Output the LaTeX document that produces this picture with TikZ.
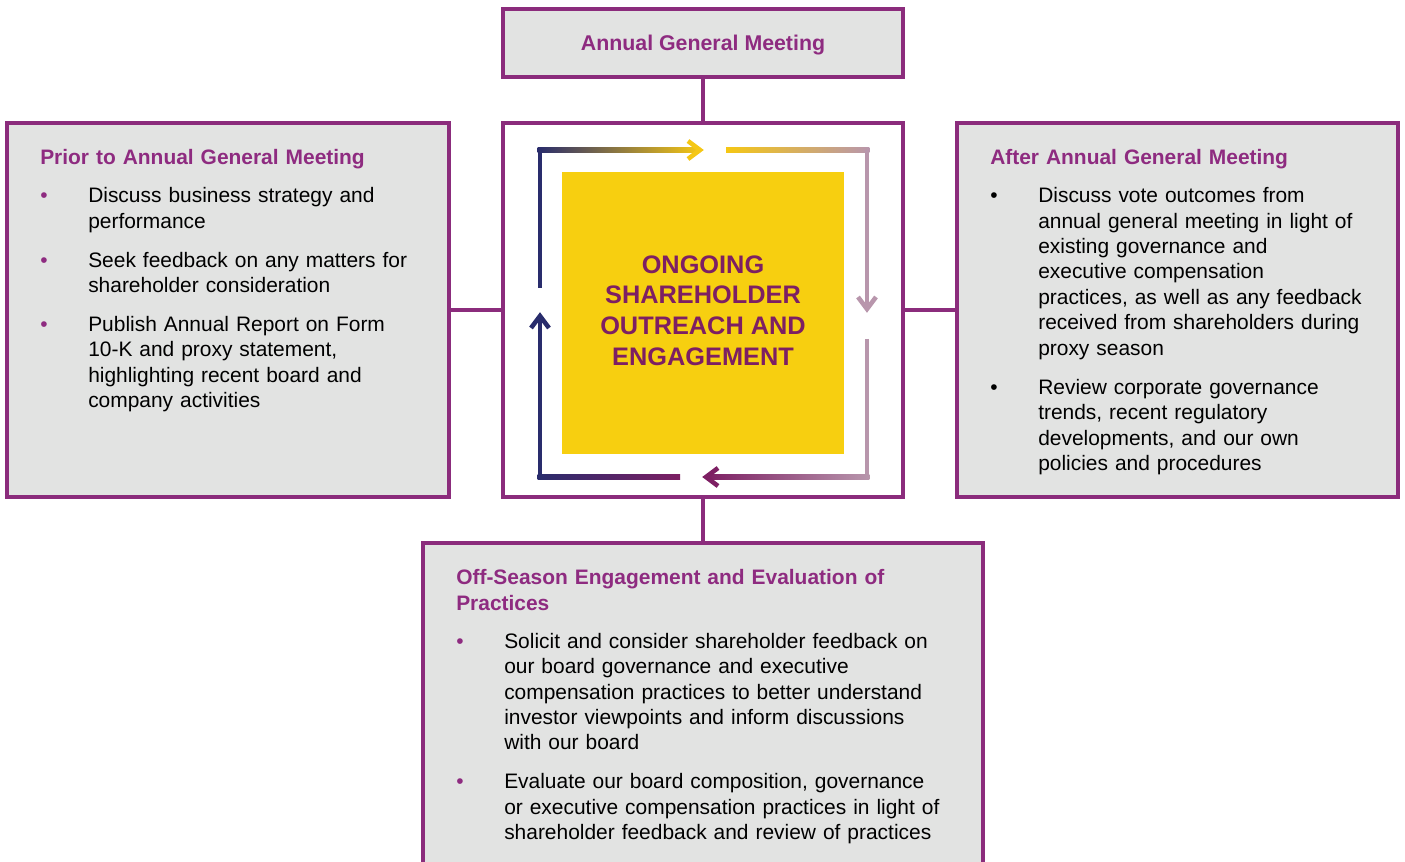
\documentclass[tikz,border=0pt]{standalone}
\usepackage{fontspec}
\setmainfont{Liberation Sans}
\usetikzlibrary{positioning}
\definecolor{agmframe}{HTML}{8B2C7C}
\definecolor{agmtitle}{HTML}{8E2B80}
\definecolor{boxgray}{HTML}{E2E3E2}
\definecolor{hubyellow}{HTML}{F7CF10}
\definecolor{navy}{HTML}{292C6C}
\definecolor{gold}{HTML}{F5C714}
\definecolor{mauve}{HTML}{B896AC}
\definecolor{plum}{HTML}{7D1F63}
\setlength{\parskip}{0pt}
\newcommand{\bodysize}{\fontsize{15.7pt}{19.1pt}\selectfont}
\newenvironment{pointlist}[1]{% bullet list used in the grey boxes
  \begin{list}{\textcolor{#1}{\textbullet}}{%
    \setlength{\leftmargin}{36pt}\setlength{\labelsep}{10pt}\setlength{\labelwidth}{26pt}%
    \setlength{\topsep}{9.4pt}\setlength{\partopsep}{0pt}%
    \setlength{\itemsep}{10.15pt}\setlength{\parsep}{0pt}%
    \renewcommand{\makelabel}[1]{##1\hfil}}}%
  {\end{list}}
\tikzset{
    x=0.75pt, y=-0.75pt, % one unit is one pixel of the reference
    node distance=34.5pt, % gap between the centre box and the boxes above and below
    box/.style={ % grey boxes with purple frame
        draw=agmframe,
        line width=2.4pt,
        fill=boxgray,
        outer sep=0pt,
        inner sep=0pt
    },
    link/.style={draw=agmframe, line width=2.8pt}, % connectors between the boxes
    cyc/.style={line width=3.4pt}, % the four arrows round the yellow square
    boxtext/.style={ % title and bullets inside a box
        anchor=base west,
        inner sep=0pt,
        align=left,
        font=\bodysize
    },
}

\begin{document}
\begin{tikzpicture}
    \useasboundingbox (0,0) rectangle (1405,862);
    \clip (0,0) rectangle (1405,862);
    \node[box, fill=white, minimum width=300pt, minimum height=280.5pt]         (hub)   at (703,310) {};
    \node[box, minimum width=300pt, minimum height=51pt, above=of hub, text depth=0pt,
          font=\fontsize{16pt}{19.1pt}\selectfont\bfseries, text=agmtitle]     (agm)   {Annual General Meeting};
    \node[box, minimum width=331.5pt, minimum height=280.5pt, left=40.5pt of hub]  (prior) {};
    \node[box, minimum width=330.75pt, minimum height=280.5pt, right=40.5pt of hub] (after) {};
    \node[box, minimum width=420pt, minimum height=255pt, below=of hub]          (offs)  {};
    \node[fill=hubyellow, minimum size=211.5pt, inner sep=0pt]                  (core)  at (703,313) {};
    \node[align=center, text=plum, font={\fontsize{19pt}{22.9pt}\selectfont\bfseries}]
        (corelabel) at (703,310.5) {ONGOING\\SHAREHOLDER\\OUTREACH AND\\ENGAGEMENT};

    \draw[link] (agm) -- (hub)
                (prior) -- (hub)
                (hub) -- (after)
                (hub) -- (offs);

    % outreach cycle
    \draw[cyc, navy] (540,288) -- (540,150);
    \shade[left color=navy, right color=gold] (537.7,147.7) rectangle (700,152.3);
    \draw[cyc, gold] (688,141) -- (700,150) -- (688,159);
    \shade[left color=gold, right color=mauve] (726,147.7) rectangle (869.3,152.3);
    \draw[cyc, mauve] (867,150) -- (867,308);
    \draw[cyc, mauve] (858,297) -- (867,309) -- (876,297);
    \draw[cyc, mauve] (867,339) -- (867,477);
    \shade[left color=plum, right color=mauve] (706,474.7) rectangle (869.3,479.3);
    \draw[cyc, plum] (718,468) -- (706,477) -- (718,486);
    \shade[left color=navy, right color=plum] (537.7,474.7) rectangle (680,479.3);
    \draw[cyc, navy] (540,477) -- (540,316);
    \draw[cyc, navy] (531,328) -- (540,316) -- (549,328);

    \node[boxtext, text width=300pt] (priortext) at ([shift={(24.75pt,-31.2pt)}]prior.north west) {%
        {\bfseries\color{agmtitle}Prior to Annual General Meeting}
        \begin{pointlist}{agmtitle}
        \item Discuss business strategy and\newline performance
        \item Seek feedback on any matters for\newline shareholder consideration
        \item Publish Annual Report on Form\newline 10-K and proxy statement,\newline
              highlighting recent board and\newline company activities
        \end{pointlist}};
    \node[boxtext, text width=300pt] (aftertext) at ([shift={(24.75pt,-31.2pt)}]after.north west) {%
        {\bfseries\color{agmtitle}After Annual General Meeting}
        \begin{pointlist}{black}
        \item Discuss vote outcomes from\newline annual general meeting in light of\newline
              existing governance and\newline executive compensation\newline
              practices, as well as any feedback\newline received from shareholders during\newline
              proxy season
        \item Review corporate governance\newline trends, recent regulatory\newline
              developments, and our own\newline policies and procedures
        \end{pointlist}};
    \node[boxtext, text width=390pt] (offstext) at ([shift={(24.75pt,-31.2pt)}]offs.north west) {%
        {\bfseries\color{agmtitle}Off-Season Engagement and Evaluation of\\Practices}
        \begin{pointlist}{agmtitle}
        \item Solicit and consider shareholder feedback on\newline our board governance and executive\newline
              compensation practices to better understand\newline investor viewpoints and inform discussions\newline
              with our board
        \item Evaluate our board composition, governance\newline or executive compensation practices in light of\newline
              shareholder feedback and review of practices
        \end{pointlist}};
\end{tikzpicture}
\end{document}
